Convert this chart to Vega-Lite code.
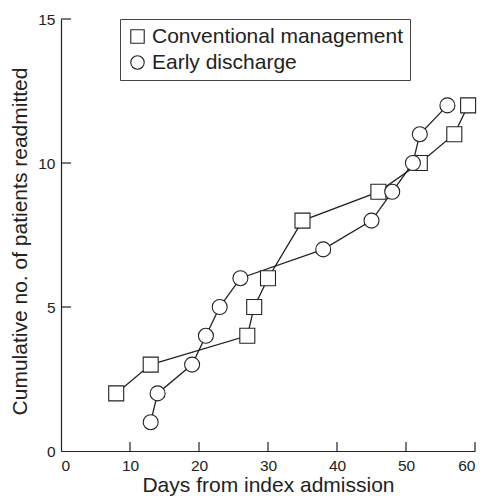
{
  "$schema": "https://vega.github.io/schema/vega-lite/v6.json",
  "width": 414,
  "height": 432,
  "autosize": "none",
  "padding": {"left": 61, "top": 19, "right": 8, "bottom": 45},
  "background": "white",
  "config": {
    "view": {"stroke": null},
    "font": "Liberation Sans",
    "axis": {
      "grid": false,
      "ticks": false,
      "domainColor": "#222",
      "domainWidth": 1.2,
      "labelFont": "Liberation Sans",
      "labelFontSize": 15.5,
      "labelColor": "#222",
      "titleFont": "Liberation Sans",
      "titleFontSize": 21,
      "titleFontWeight": "normal",
      "titleColor": "#222"
    }
  },
  "datasets": {
    "readmissions": [
      {"group": "Conventional management", "days": 8, "n": 2},
      {"group": "Conventional management", "days": 13, "n": 3},
      {"group": "Conventional management", "days": 27, "n": 4},
      {"group": "Conventional management", "days": 28, "n": 5},
      {"group": "Conventional management", "days": 30, "n": 6},
      {"group": "Conventional management", "days": 35, "n": 8},
      {"group": "Conventional management", "days": 46, "n": 9},
      {"group": "Conventional management", "days": 52, "n": 10},
      {"group": "Conventional management", "days": 57, "n": 11},
      {"group": "Conventional management", "days": 59, "n": 12},
      {"group": "Early discharge", "days": 13, "n": 1},
      {"group": "Early discharge", "days": 14, "n": 2},
      {"group": "Early discharge", "days": 19, "n": 3},
      {"group": "Early discharge", "days": 21, "n": 4},
      {"group": "Early discharge", "days": 23, "n": 5},
      {"group": "Early discharge", "days": 26, "n": 6},
      {"group": "Early discharge", "days": 38, "n": 7},
      {"group": "Early discharge", "days": 45, "n": 8},
      {"group": "Early discharge", "days": 48, "n": 9},
      {"group": "Early discharge", "days": 51, "n": 10},
      {"group": "Early discharge", "days": 52, "n": 11},
      {"group": "Early discharge", "days": 56, "n": 12}
    ],
    "xticks": [{"t": 10}, {"t": 20}, {"t": 30}, {"t": 40}, {"t": 50}, {"t": 60}],
    "yticks": [{"t": 5}, {"t": 10}, {"t": 15}]
  },
  "layer": [
    {
      "data": {"name": "xticks"},
      "mark": {"type": "rule", "color": "#222", "strokeWidth": 1.2},
      "encoding": {
        "x": {"field": "t", "type": "quantitative", "title": "Days from index admission"},
        "y": {"datum": 0, "title": "Cumulative no. of patients readmitted"},
        "y2": {"datum": 0.31}
      }
    },
    {
      "data": {"name": "yticks"},
      "mark": {"type": "rule", "color": "#222", "strokeWidth": 1.2},
      "encoding": {
        "y": {"field": "t", "type": "quantitative", "title": "Cumulative no. of patients readmitted"},
        "x": {"datum": 0, "title": "Days from index admission"},
        "x2": {"datum": 1.45}
      }
    },
    {
      "data": {"name": "readmissions"},
      "mark": {"type": "line", "color": "#222", "strokeWidth": 1.3},
      "encoding": {
        "x": {
          "field": "days", "type": "quantitative",
          "scale": {"domain": [0, 60], "nice": false, "zero": true},
          "axis": {
            "values": [0, 10, 20, 30, 40, 50, 60], "title": "Days from index admission",
            "labelPadding": 7, "titlePadding": 1
          }
        },
        "y": {
          "field": "n", "type": "quantitative",
          "scale": {"domain": [0, 15], "nice": false},
          "axis": {
            "values": [0, 5, 10, 15], "title": "Cumulative no. of patients readmitted",
            "labelPadding": 6, "titlePadding": 7, "titleY": 222
          }
        },
        "detail": {"field": "group"}
      }
    },
    {
      "data": {"name": "readmissions"},
      "mark": {"type": "point", "filled": false, "fill": "white", "fillOpacity": 1, "color": "#222", "strokeWidth": 1.1, "opacity": 1, "size": 225},
      "encoding": {
        "x": {"field": "days", "type": "quantitative", "title": "Days from index admission"},
        "y": {"field": "n", "type": "quantitative", "title": "Cumulative no. of patients readmitted"},
        "shape": {
          "field": "group", "type": "nominal",
          "scale": {"domain": ["Conventional management", "Early discharge"], "range": ["square", "circle"]},
          "legend": {
            "title": null,
            "orient": "none",
            "legendX": 59,
            "legendY": 0,
            "padding": 7,
            "strokeColor": "#444",
            "symbolSize": 180,
            "symbolStrokeWidth": 1.1,
            "labelFontSize": 21,
            "labelColor": "#222",
            "labelLimit": 0,
            "rowPadding": 4
          }
        }
      }
    }
  ]
}
